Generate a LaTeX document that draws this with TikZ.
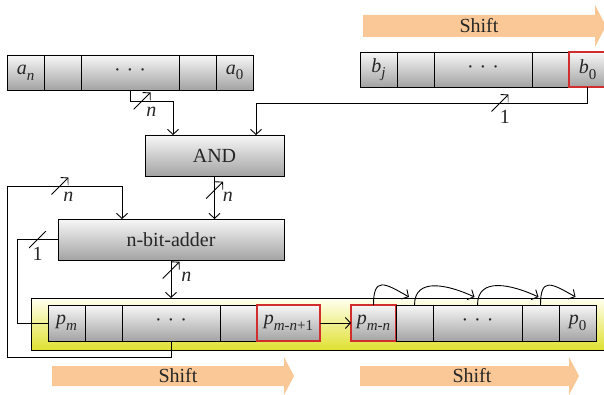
\documentclass[tikz,border=0pt]{standalone}
\usepackage{fontspec}
\setmainfont{Liberation Serif}
\usepackage{tikz}
\usetikzlibrary{positioning, arrows.meta, calc}
\definecolor{shiftorange}{RGB}{249,200,150}
\definecolor{regred}{RGB}{210,45,45}
\definecolor{regyellow}{RGB}{224,224,48}
% register entry: italic letter with a large subscript
\newcommand{\regbit}[2]{\textit{#1}\raisebox{-0.28em}{\fontsize{15}{15}\selectfont #2}}
\newcommand{\regdots}{·\hspace{6pt}·\hspace{6pt}·}
\tikzset{
    cell/.style={draw=black, line width=0.9pt, top color=black!3, bottom color=black!36,
        minimum height=35pt, minimum width=37pt, inner sep=0pt, outer sep=0pt},
    widecell/.style={cell, minimum width=98pt},
    redcell/.style={cell, draw=regred, line width=1.2pt},
    pcell/.style={cell, minimum height=36pt},
    unit/.style={cell, minimum height=41pt},
    wire/.style={line width=0.9pt},
    arr/.style={wire, -{Straight Barb[length=5pt, width=11pt]}},
    slash/.style={minimum size=17pt, inner sep=0pt,
        path picture={\draw[line width=0.9pt] (path picture bounding box.south west) -- (path picture bounding box.north east);}}
}

\begin{document}
\begin{tikzpicture}[x=1pt, y=-1pt, font=\fontsize{20}{24}\selectfont, text=black!85]
    \useasboundingbox (0,0) rectangle (604,395);
    \clip (0,0) rectangle (604,395);

    % ---------------- shift arrows ----------------
    \fill[shiftorange] (363,15) -- (595,15) -- (595,5) -- (606,26) -- (595,47) -- (595,37) -- (363,37) -- cycle;
    \node (shifttop) at (479,26) {Shift};
    \fill[shiftorange] (52,366) -- (284,366) -- (284,357) -- (294,376) -- (284,395) -- (284,386) -- (52,386) -- cycle;
    \node (shiftleft) at (178,376) {Shift};
    \fill[shiftorange] (360,366) -- (569,366) -- (569,357) -- (579,376) -- (569,395) -- (569,386) -- (360,386) -- cycle;
    \node (shiftright) at (472,376) {Shift};

    % ---------------- register a ----------------
    \node[cell, anchor=west] (an) at (7,72.5) {\regbit{a}{\textit{n}}};
    \node[cell, right=0pt of an] (a1) {};
    \node[widecell, right=0pt of a1] (adots) {\regdots};
    \node[cell, right=0pt of adots] (a2) {};
    \node[cell, right=0pt of a2] (a0) {\regbit{a}{0}};

    % ---------------- register b ----------------
    \node[cell, anchor=west] (bj) at (360,69.5) {\regbit{b}{\textit{j}}};
    \node[cell, right=0pt of bj] (b1) {};
    \node[widecell, right=0pt of b1] (bdots) {\regdots};
    \node[cell, right=0pt of bdots] (b2) {};
    \node[redcell, right=0pt of b2] (b0) {\regbit{b}{0}};

    % ---------------- AND and adder ----------------
    \node[unit, minimum width=139pt] (and) at (214.5,155.5) {AND};
    \node[unit, minimum width=226pt] (adder) at (171,239.5) {n-bit-adder};

    % ---------------- register p ----------------
    \node[draw=black, line width=0.9pt, top color=yellow!6!white, bottom color=regyellow,
        minimum width=580pt, minimum height=52pt, inner sep=0pt, anchor=north west] (preg) at (31,298) {};
    \node[pcell, anchor=west] (pm) at (48,323) {\regbit{p}{\textit{m}}};
    \node[pcell, right=0pt of pm] (p1) {};
    \node[pcell, widecell, minimum height=36pt, right=0pt of p1] (pdots) {\regdots};
    \node[pcell, right=0pt of pdots] (p2) {};
    \node[pcell, redcell, minimum height=36pt, minimum width=63pt, right=0pt of p2] (pmn1) {\regbit{p}{\textit{m}-\textit{n}+1}};
    \node[pcell, redcell, minimum height=36pt, minimum width=45pt, right=31pt of pmn1] (pmn) {\regbit{p}{\textit{m}-\textit{n}}};
    \node[pcell, right=0pt of pmn] (q1) {};
    \node[pcell, minimum width=89pt, right=0pt of q1] (qdots) {\regdots};
    \node[pcell, right=0pt of qdots] (q2) {};
    \node[pcell, right=0pt of q2] (p0) {\regbit{p}{0}};

    % ---------------- wires ----------------
    \draw[arr] (adots.south) -- ++(0,11) -| node[slash, pos=0.14, label={[inner sep=0pt, xshift=-5pt, yshift=3pt]below right:\textit{n}}] {} ([xshift=-41.5pt]and.north);
    \draw[arr] (b0.south) -- ++(0,16) -| node[slash, pos=0.132, label={[inner sep=0pt, xshift=5pt, yshift=2pt]below:1}] {} ([xshift=41.5pt]and.north);
    \draw[arr] (and.south) -- node[slash, pos=0.33, label={[inner sep=1pt, xshift=-2pt, yshift=-7pt]right:\textit{n}}] {} (and.south |- adder.north);
    \draw[arr] (adder.south) -- node[slash, pos=0.27, label={[inner sep=1pt, yshift=-7pt]right:\textit{n}}] {} (adder.south |- preg.north);

    \coordinate (loopbot) at (7,357);
    \coordinate (looptop) at (7,186);
    \draw[arr] (pdots.south) |- (loopbot) -- (looptop) -| node[slash, pos=0.23, label={[inner sep=0pt, xshift=-6pt, yshift=3pt]below right:\textit{n}}] {} ([xshift=-49pt]adder.north);
    \draw[wire] (adder.west) -- node[slash, label={[inner sep=0pt, yshift=2pt]below:1}] {} ++(-41,0) |- (pm.west);

    \draw[arr] (pmn1.east) -- (pmn.west);
    \draw[arr] (pmn.north) to[out=90, in=150, looseness=2] ([xshift=-5.5pt, yshift=8pt]q1.north);
    \draw[arr] (q1.north) to[out=90, in=155, looseness=1.2] ([xshift=-3pt, yshift=8pt]qdots.north);
    \draw[arr] (qdots.north) to[out=90, in=155, looseness=1.2] ([xshift=-2pt, yshift=8pt]q2.north);
    \draw[arr] (q2.north) to[out=90, in=150, looseness=2] ([xshift=-2pt, yshift=8pt]p0.north);
\end{tikzpicture}
\end{document}
